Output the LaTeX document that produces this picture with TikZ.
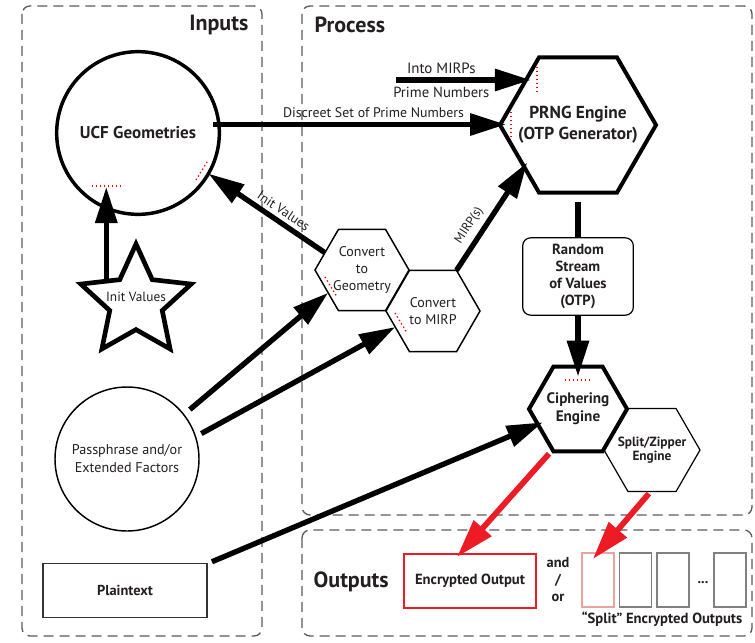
\documentclass[tikz,border=0pt]{standalone}
\usepackage{fontspec}
\setmainfont{PT Sans}
\usetikzlibrary{shapes.geometric,arrows.meta,calc}
\definecolor{boxgray}{HTML}{5A5A5A}
\definecolor{arrred}{HTML}{ED1C24}
\definecolor{lightred}{HTML}{E9A3A3}
\definecolor{midgray}{HTML}{808080}
\definecolor{txt}{HTML}{231F20}
\begin{document}
\begin{tikzpicture}[x=0.75pt,y=-0.75pt,
  grpbox/.style={draw=boxgray, line width=1pt, dash pattern=on 7.5pt off 4.5pt, rounded corners=6pt},
  hexa/.style={regular polygon, regular polygon sides=6, inner sep=0pt, outer sep=0pt, draw, fill=white},
  hextext/.style={align=center, text=txt, inner sep=0pt},
  bigarrow/.style={line width=4pt, -{Triangle[length=27pt,width=16pt]}},
  revarrow/.style={line width=4pt, {Triangle[length=27pt,width=16pt]}-},
  redarrow/.style={line width=4.3pt, draw=arrred, -{Triangle[length=29pt,width=17pt]}},
  redmark/.style={draw=red, dotted, line width=1pt},
  grptitle/.style={font=\bfseries\fontsize{16.5}{19}\selectfont, text=txt},
  smalltxt/.style={font=\fontsize{10.4}{12}\selectfont, text=txt, inner sep=1pt},
  boldtxt/.style={font=\bfseries\fontsize{10.8}{12.75}\selectfont, text=txt, align=center},
  plainbox/.style={draw, line width=0.9pt, inner sep=0pt, outer sep=0pt}
]
\useasboundingbox (0,0) rectangle (755,642);

% group boxes
\draw[grpbox] (22,6) rectangle (262,636);
\draw[grpbox] (302,6) rectangle (752,515);
\draw[grpbox] (302,530) rectangle (752,636);
\node[grptitle, anchor=east] (tin) at (253,25) {Inputs};
\node[grptitle, anchor=west] (tpr) at (310,25) {Process};
\node[grptitle, anchor=west] (tout) at (309,582) {Outputs};

% main shapes
\node[circle, draw, line width=2.6pt, minimum size=122pt, inner sep=0pt, outer sep=0pt,
      font=\bfseries\fontsize{12.8}{15}\selectfont, text=txt] (ucf) at (138,133) {UCF Geometries};
\node[star, star points=5, star point ratio=2.1, draw, line width=3.5pt, minimum size=87pt,
      inner sep=0pt, outer sep=0pt] (star) at (136,302) {};
\node[smalltxt, font=\fontsize{10}{12}\selectfont] (starlbl) at (136,297) {Init Values};
\node[circle, draw, line width=1.1pt, minimum size=108pt, inner sep=0pt, outer sep=0pt, align=center,
      font=\fontsize{10.6}{13.5}\selectfont, text=txt] (pass) at (127,459) {Passphrase and/or\\Extended Factors};
\node[plainbox, draw=black!80, minimum width=123pt, minimum height=40pt,
      font=\bfseries\fontsize{10.8}{12}\selectfont, text=txt] (plain) at (125,590.5) {Plaintext};

\node[hexa, line width=3pt, minimum size=117pt] (prng) at (578,125) {};
\node[hextext, font=\bfseries\fontsize{13}{15.5}\selectfont] (prngt) at (prng.center) {PRNG Engine\\(OTP Generator)};
\node[hexa, line width=1.1pt, minimum size=70.5pt] (geom) at (362,270) {};
\node[hextext, font=\fontsize{10.5}{12.75}\selectfont] (geomt) at (geom.center) {Convert\\to\\Geometry};
\node[hexa, line width=1.1pt, minimum size=70.5pt] (mirp) at (433,311) {};
\node[hextext, font=\fontsize{10.5}{12.75}\selectfont] (mirpt) at (mirp.center) {Convert\\to MIRP};
\node[plainbox, rounded corners=6pt, minimum width=83pt, minimum height=58pt, boldtxt,
      font=\bfseries\fontsize{11}{12.75}\selectfont] (otp) at (578,276.5) {Random\\Stream\\of Values\\(OTP)};
\node[hexa, line width=0.9pt, minimum size=72pt] (split) at (652,450) {};
\node[hextext, font=\bfseries\fontsize{10}{10.8}\selectfont] (splitt) at (split.center) {Split/Zipper\\Engine};
\node[hexa, line width=3pt, minimum size=73.5pt, fill=none] (cipher) at (578,409) {};
\node[hextext, font=\bfseries\fontsize{11.4}{13.5}\selectfont] (ciphert) at (cipher.center) {Ciphering\\Engine};

% outputs
\node[plainbox, draw=arrred, minimum width=99pt, minimum height=40.5pt,
      font=\bfseries\fontsize{11}{12}\selectfont, text=txt] (enc) at (470,581) {Encrypted Output};
\node[boldtxt] (andor) at (558,580) {and\\/\\or};
\node[plainbox, draw=lightred, minimum width=24pt, minimum height=40.5pt] (s1) at (598,580) {};
\node[plainbox, draw=midgray, minimum width=24pt, minimum height=40.5pt] (s2) at (635.5,580) {};
\node[plainbox, draw=midgray, minimum width=24pt, minimum height=40.5pt] (s3) at (673,580) {};
\node[plainbox, draw=midgray, minimum width=24pt, minimum height=40.5pt] (s4) at (730,580) {};
\node[boldtxt, anchor=base] (dots) at (703,583) {...};
\node[boldtxt, font=\bfseries\fontsize{11}{12}\selectfont] (splitlbl) at (662,619) {“Split” Encrypted Outputs};

% connectors
\coordinate (mirpsrc) at (396,80);
\coordinate (ucfmark) at (108,187);
\draw[bigarrow, shorten <=-4.5pt, shorten >=-4.5pt] (ucf.6) -- (ucf.6 -| prng.west)
  node[smalltxt, pos=0.55, above=2pt] {Discreet Set of Prime Numbers};
\draw[bigarrow, shorten >=-4pt] (mirpsrc) -- (mirpsrc -| prng.140)
  node[smalltxt, font=\fontsize{11.2}{13}\selectfont, pos=0.35, above=2pt] {Into MIRPs}
  node[smalltxt, font=\fontsize{11}{13}\selectfont, pos=0.35, below=2pt] {Prime Numbers};
\draw[bigarrow, shorten >=-4pt] (mirp.60) -- (prng.218)
  node[smalltxt, font=\fontsize{9.5}{11}\selectfont, pos=0.36, sloped, above=3pt] {MIRP(s)};
\draw[line width=4pt, shorten <=7pt] (prng.south) -- (otp.north);
\draw[bigarrow, shorten >=-7.5pt] (otp.south) -- (cipher.north);
\draw[revarrow] (ucf.-30) -- (geom.155)
  node[smalltxt, font=\fontsize{10}{11}\selectfont, pos=0.59, sloped, above=2pt] {Init Values};
\draw[bigarrow] (star.145) -- (star.145 |- ucfmark);
\draw[bigarrow, shorten <=6pt] (pass.38) -- (geom.214);
\draw[bigarrow, shorten <=5pt] (pass.18) -- (mirp.203);
\draw[bigarrow, shorten <=4pt, shorten >=-4pt] (plain.north east) -- (cipher.201);
\draw[redarrow, shorten <=4pt, shorten >=-3pt] (cipher.238) -- (enc.111);
\draw[redarrow, shorten <=2pt, shorten >=-6pt] (split.268) -- (s1.north);

% red dotted guide marks
\draw[redmark] (92,186) -- (123,186);
\draw[redmark] (196,180) -- (207,162);
\draw[redmark] (537,67) -- (537,93);
\draw[redmark] (511,112) -- (511,137);
\draw[redmark] (325,277) -- (337,297);
\draw[redmark] (395,313) -- (407,333);
\draw[redmark] (565,380) -- (592,380);
\end{tikzpicture}
\end{document}
